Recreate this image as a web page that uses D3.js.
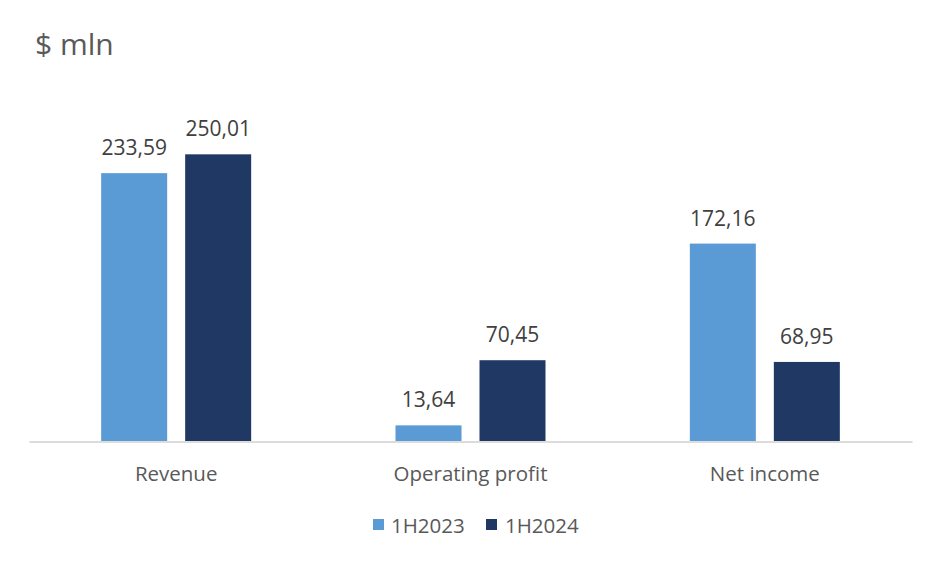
<!DOCTYPE html>
<html>
<head>
<meta charset="utf-8">
<script src="https://cdn.jsdelivr.net/npm/d3@7"></script>
<style>
  html, body { margin: 0; padding: 0; background: #fff; }
  svg { display: block; font-family: "Open Sans", "Noto Sans", sans-serif; }
</style>
</head>
<body>
<svg id="chart" width="941" height="563"></svg>
<script>
const categories = ["Revenue", "Operating profit", "Net income"];
const seriesNames = ["1H2023", "1H2024"];
const values2023 = [233.59, 13.64, 172.16];
const values2024 = [250.01, 70.45, 68.95];
const valueLabels2023 = ["233,59", "13,64", "172,16"];
const valueLabels2024 = ["250,01", "70,45", "68,95"];
const colors = ["#5B9BD5", "#1F3864"];

const svg = d3.select("#chart");
const W = 941, H = 563;
svg.append("rect").attr("width", W).attr("height", H).attr("fill", "#fff");

const plot = { left: 29, right: 912, top: 97, bottom: 441 };

const x0 = d3.scaleBand().domain(categories).range([plot.left, plot.right]).padding(0);
const bw = x0.bandwidth();
const groupW = 150;
const x1 = d3.scaleBand().domain(seriesNames)
  .range([(bw - groupW) / 2, (bw + groupW) / 2])
  .paddingInner(18 / 84).paddingOuter(0);
const y = d3.scaleLinear().domain([0, 300]).range([plot.bottom, plot.top]);

const data = categories.map((c, i) => ({
  category: c,
  items: [
    { series: seriesNames[0], value: values2023[i], label: valueLabels2023[i] },
    { series: seriesNames[1], value: values2024[i], label: valueLabels2024[i] }
  ]
}));

// Title
svg.append("text")
  .attr("x", 35).attr("y", 55)
  .attr("font-size", 30).attr("fill", "#595959")
  .text("$ mln");

const color = d3.scaleOrdinal().domain(seriesNames).range(colors);

const groups = svg.append("g").selectAll("g").data(data).join("g")
  .attr("transform", d => `translate(${x0(d.category)},0)`);

groups.selectAll("rect").data(d => d.items).join("rect")
  .attr("x", d => x1(d.series))
  .attr("width", x1.bandwidth())
  .attr("y", d => y(d.value))
  .attr("height", d => y(0) - y(d.value))
  .attr("fill", d => color(d.series));

groups.selectAll("text.val").data(d => d.items).join("text")
  .attr("class", "val")
  .attr("x", d => x1(d.series) + x1.bandwidth() / 2)
  .attr("y", d => y(d.value) - 18)
  .attr("text-anchor", "middle")
  .attr("font-size", 21).attr("fill", "#404040")
  .text(d => d.label);

// Axis
const xAxis = d3.axisBottom(x0).tickSize(0).tickPadding(0);
const ax = svg.append("g").attr("transform", `translate(0,${plot.bottom + 0.5})`).call(xAxis);
ax.select(".domain").attr("stroke", "#d0d0d0").attr("stroke-width", 1.5);
ax.selectAll(".tick text")
  .attr("font-size", 20.5).attr("fill", "#595959")
  .attr("font-family", "'Open Sans', 'Noto Sans', sans-serif")
  .attr("y", 39).attr("dy", 0);

// Legend
const legendItems = [
  { name: seriesNames[0], sx: 373, tx: 391 },
  { name: seriesNames[1], sx: 486, tx: 505 }
];
const lg = svg.append("g");
lg.selectAll("rect").data(legendItems).join("rect")
  .attr("x", d => d.sx).attr("y", 519).attr("width", 11).attr("height", 11)
  .attr("fill", d => color(d.name));
lg.selectAll("text").data(legendItems).join("text")
  .attr("x", d => d.tx).attr("y", 533)
  .attr("font-size", 20.5).attr("fill", "#595959")
  .text(d => d.name);
</script>
</body>
</html>
